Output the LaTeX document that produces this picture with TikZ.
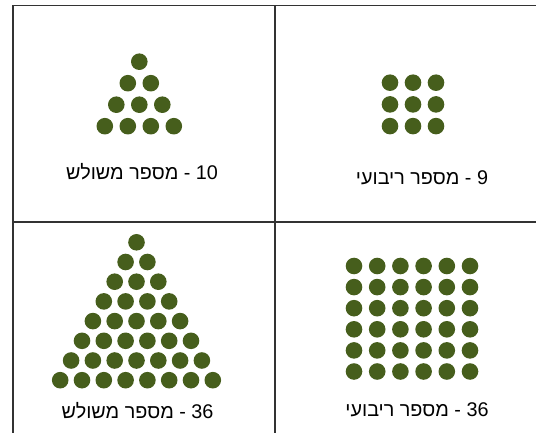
\documentclass[tikz,border=0pt]{standalone}
\usepackage{fontspec}
\setmainfont{Liberation Sans}
\newfontfamily\hebfont[Script=Hebrew]{Liberation Sans}
\TeXXeTstate=1
\usepackage{tikz}
\usetikzlibrary{positioning}
\definecolor{olivedot}{RGB}{70,94,28}
\definecolor{gridline}{RGB}{51,51,51}

\begin{document}
\begin{tikzpicture}[x=1pt, y=-1pt,
    frame/.style={draw=gridline, line width=1.3pt},
    dot/.style={fill=olivedot},
    caption/.style={anchor=base, font=\hebfont\fontsize{19.8}{22}\selectfont, inner sep=0pt}]
  \useasboundingbox (0,0) rectangle (536,433);

  % grid lines
  \draw[frame] (13,433) -- (13,5.5) -- (536,5.5);
  \draw[frame] (275,5.5) -- (275,433);
  \draw[frame] (13,222) -- (536,222);

  % triangular number 10
  \foreach \i in {0,...,3}
    \foreach \j in {0,...,\i}
      \fill[dot] ({139.3+(\j-\i/2)*23}, {61.7+\i*21.5}) circle (8.3);
  \node[caption] (tri10) at (142,180) {\beginR\beginL 10\endL{} - מספר משולש\endR};

  % square number 9
  \foreach \i in {0,...,2}
    \foreach \j in {0,...,2}
      \fill[dot] ({390+\j*23}, {82.7+\i*21.7}) circle (8.3);
  \node[caption] (sq9) at (422,185) {\beginR\beginL 9\endL{} - מספר ריבועי\endR};

  % triangular number 36
  \foreach \i in {0,...,7}
    \foreach \j in {0,...,\i}
      \fill[dot] ({136.5+(\j-\i/2)*21.8}, {242.3+\i*19.7}) circle (8.3);
  \node[caption] (tri36) at (137.5,418.3) {\beginR\beginL 36\endL{} - מספר משולש\endR};

  % square number 36
  \foreach \i in {0,...,5}
    \foreach \j in {0,...,5}
      \fill[dot] ({354+\j*23.2}, {266+\i*21.1}) circle (8.3);
  \node[caption] (sq36) at (417,416.7) {\beginR\beginL 36\endL{} - מספר ריבועי\endR};
\end{tikzpicture}
\end{document}
